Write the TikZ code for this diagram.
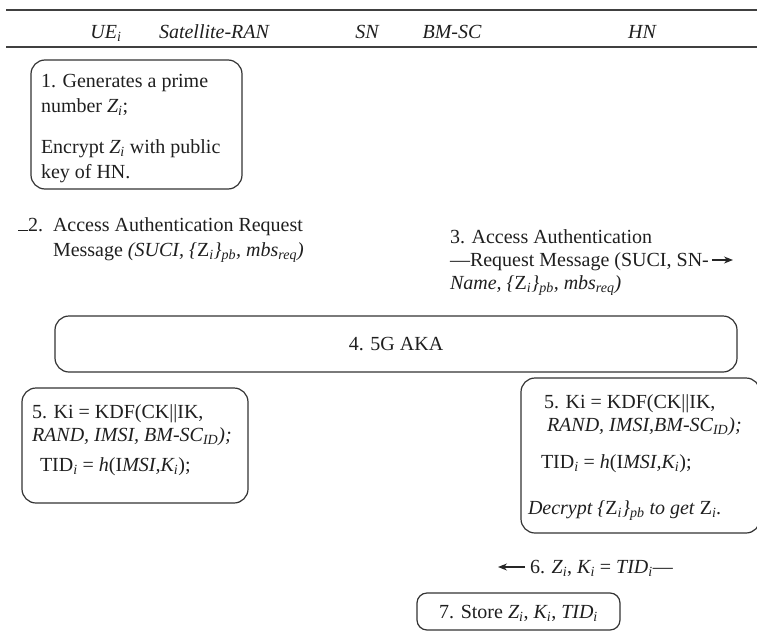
\documentclass[tikz,border=0pt]{standalone}
\usepackage{fontspec}
\setmainfont{Liberation Serif}
\usetikzlibrary{arrows.meta}
\newcommand\sbs[1]{\textsubscript{#1}}
\begin{document}
\begin{tikzpicture}[x=1pt,y=-1pt,
  txt/.style={anchor=base west, inner sep=0pt, outer sep=0pt, text=black!88, font=\fontsize{20}{24}\selectfont},
  ctxt/.style={txt, anchor=base},
  hdr/.style={anchor=base, inner sep=0pt, text=black!88, font=\fontsize{20}{24}\selectfont\itshape},
  rbox/.style={draw=black!80, line width=1.2pt, rounded corners=14pt, inner sep=0pt, outer sep=0pt},
  sbox/.style={rbox, rounded corners=10pt},
  rule/.style={draw=black!75, line width=1.6pt},
  msg/.style={draw=black!85, line width=1.2pt, -{Stealth[length=9pt,width=7pt]}}
]
\useasboundingbox (0,0) rectangle (757,634);
% header
\coordinate (t1) at (6,10); \coordinate (t2) at (757,10);
\coordinate (h1) at (6,47); \coordinate (h2) at (757,47);
\draw[rule] (t1) -- (t2);
\draw[rule] (h1) -- (h2);
\node[hdr] (hue) at (106,38) {UE\sbs{i}};
\node[hdr] (hsat) at (214,38) {Satellite-RAN};
\node[hdr] (hsn) at (367,38) {SN};
\node[hdr] (hbm) at (452,38) {BM-SC};
\node[hdr] (hhn) at (642,38) {HN};
% box 1
\node[rbox, minimum width=211pt, minimum height=129pt] (b1) at (136.5,124.5) {};
\node[txt] (b1a) at (41,87) {1. Generates a prime};
\node[txt] (b1b) at (41,112) {number \textit{Z\sbs{i}};};
\node[txt] (b1c) at (41,153) {Encrypt \textit{Z\sbs{i}} with public};
\node[txt] (b1d) at (41,178) {key of HN.};
% message 2
\node[txt] (m2n) at (18,231) {\rule{10pt}{0.9pt}2.};
\node[txt] (m2a) at (53,231) {Access Authentication Request};
\node[txt] (m2b) at (53,256) {Message \textit{(SUCI, \{}Z\textit{\sbs{i}\}\sbs{pb}, mbs\sbs{req})}};
% message 3
\node[txt] (m3a) at (450,243) {3. Access Authentication};
\node[txt] (m3b) at (450,266) {---Request Message (SUCI, SN-};
\coordinate (m3e) at (733,260);
\draw[msg] ([xshift=3pt]m3b.east |- m3e) -- (m3e);
\node[txt] (m3c) at (450,289) {\textit{Name, \{}Z\textit{\sbs{i}\}\sbs{pb}, mbs\sbs{req})}};
% box 4
\node[rbox, minimum width=682pt, minimum height=56pt] (b4) at (396,344) {};
\node[ctxt] (b4t) at (396,350) {4. 5G AKA};
% box 5 left
\node[rbox, minimum width=226pt, minimum height=115pt] (b5l) at (135,445.5) {};
\node[txt] (b5la) at (32,418) {5. Ki = KDF(CK||IK,};
\node[txt] (b5lb) at (32,441) {\textit{RAND, IMSI, BM-SC\sbs{ID});}};
\node[txt] (b5lc) at (40,471) {TID\sbs{\textit{i}} = \textit{h}(I\textit{MSI,K\sbs{i}});};
% box 5 right
\node[rbox, minimum width=239pt, minimum height=155pt] (b5r) at (640.5,455.5) {};
\node[txt] (b5ra) at (544,408) {5. Ki = KDF(CK||IK,};
\node[txt] (b5rb) at (547,431) {\textit{RAND, IMSI,BM-SC\sbs{ID});}};
\node[txt] (b5rc) at (541,468) {TID\sbs{\textit{i}} = \textit{h}(I\textit{MSI,K\sbs{i}});};
\node[txt] (b5rd) at (528,514) {\textit{Decrypt \{}Z\textit{\sbs{i}\}\sbs{pb} to get }Z\textit{\sbs{i}.}};
% message 6
\node[txt] (m6) at (530,573) {6. \textit{Z\sbs{i}}, \textit{K\sbs{i}} = \textit{TID\sbs{i}}---};
\coordinate (m6e) at (498,567);
\draw[msg] ([xshift=-5pt]m6.west |- m6e) -- (m6e);
% box 7
\node[sbox, minimum width=203pt, minimum height=37pt] (b7) at (518.5,611.5) {};
\node[ctxt] (b7t) at (518.5,618) {7. Store \textit{Z\sbs{i}}, \textit{K\sbs{i}}, \textit{TID\sbs{i}}};
\end{tikzpicture}
\end{document}
